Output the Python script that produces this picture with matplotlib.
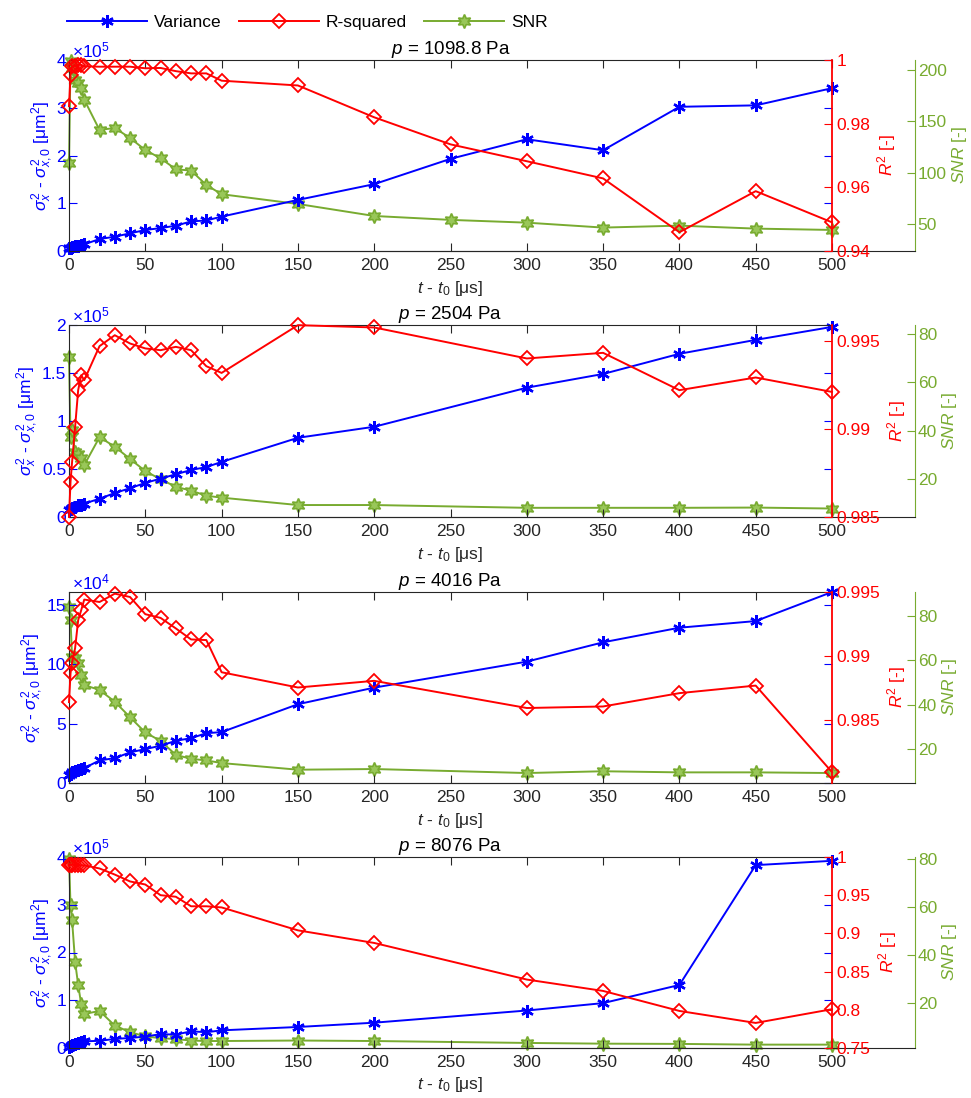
"""
Variance, R-squared and SNR against time for four pressures (MATLAB-style three-axis panels).
"""

import matplotlib
matplotlib.use('Agg')
from matplotlib import pyplot as plt
from matplotlib.lines import Line2D
from matplotlib.ticker import FuncFormatter, MultipleLocator

plt.rcParams['font.family'] = ['Liberation Sans', 'DejaVu Sans']
plt.rcParams['mathtext.fontset'] = 'custom'
plt.rcParams['mathtext.rm'] = 'Liberation Sans'
plt.rcParams['mathtext.it'] = 'Liberation Sans:italic'
plt.rcParams['mathtext.bf'] = 'Liberation Sans:bold'

# ---- data -------------------------------------------------------------
t_all = [0, 1, 2, 4, 6, 8, 10, 20, 30, 40, 50, 60, 70, 80, 90, 100,
         150, 200, 250, 300, 350, 400, 450, 500]
t_short = [0, 1, 2, 4, 6, 8, 10, 20, 30, 40, 50, 60, 70, 80, 90, 100,
           150, 200, 300, 350, 400, 450, 500]

pressures = ['1098.8', '2504', '4016', '8076']

# p = 1098.8 Pa
var_1 = [0.06e5, 0.07e5, 0.08e5, 0.10e5, 0.11e5, 0.12e5, 0.14e5, 0.25e5, 0.30e5, 0.37e5,
         0.44e5, 0.48e5, 0.53e5, 0.62e5, 0.64e5, 0.72e5, 1.07e5, 1.40e5, 1.93e5, 2.34e5,
         2.11e5, 3.02e5, 3.05e5, 3.41e5]
r2_1 = [0.9855, 0.9953, 0.9980, 0.9982, 0.9985, 0.9985, 0.9980, 0.9979, 0.9979, 0.9979,
        0.9974, 0.9975, 0.9965, 0.9958, 0.9958, 0.9935, 0.9920, 0.9820, 0.9735, 0.9682,
        0.9628, 0.9459, 0.9588, 0.9490]
snr_1 = [109, 209, 202, 190, 187, 182, 171, 141.6, 143.5, 133.8, 122, 114, 103.3, 102,
         88, 79, 69.5, 57.8, 54, 51.3, 46.5, 48.4, 45.5, 44.2]

# p = 2504 Pa
var_2 = [0.07e5, 0.08e5, 0.09e5, 0.10e5, 0.12e5, 0.13e5, 0.14e5, 0.19e5, 0.25e5, 0.30e5,
         0.355e5, 0.40e5, 0.445e5, 0.49e5, 0.52e5, 0.574e5, 0.825e5, 0.94e5, 1.347e5,
         1.49e5, 1.70e5, 1.845e5, 1.98e5]
r2_2 = [0.9850, 0.9870, 0.9881, 0.9901, 0.9922, 0.99305, 0.99277, 0.99470, 0.99532,
        0.99485, 0.99457, 0.99447, 0.99466, 0.99447, 0.99356, 0.99318, 0.99589, 0.99576,
        0.9940, 0.99432, 0.99220, 0.99292, 0.99210]
snr_2 = [70.5, 37.5, 40.3, 31.0, 30.2, 28.6, 25.8, 37.3, 33.4, 28.3, 23.3, 19.9, 16.8,
         15.2, 13.1, 12.3, 9.25, 9.25, 8.1, 8.1, 8.1, 8.2, 7.8]

# p = 4016 Pa
var_3 = [0.70e4, 0.80e4, 0.90e4, 1.00e4, 1.10e4, 1.18e4, 1.26e4, 1.90e4, 2.10e4, 2.58e4,
         2.86e4, 3.14e4, 3.56e4, 3.78e4, 4.20e4, 4.29e4, 6.64e4, 8.04e4, 10.23e4, 11.86e4,
         13.09e4, 13.65e4, 16.1e4]
r2_3 = [0.98641, 0.98866, 0.98950, 0.99061, 0.99280, 0.99358, 0.99441, 0.99422, 0.99487,
        0.99461, 0.99327, 0.99298, 0.99216, 0.99130, 0.99125, 0.98874, 0.98755, 0.98807,
        0.98595, 0.98607, 0.98711, 0.98770, 0.98095]
snr_3 = [84.2, 78.2, 61.7, 61.0, 58.7, 53.4, 48.9, 46.7, 41.4, 34.4, 27.5, 23.7, 17.4,
         15.6, 14.9, 13.7, 10.7, 11.0, 9.2, 10.0, 9.5, 9.5, 9.2]

# p = 8076 Pa
var_4 = [0.03e5, 0.05e5, 0.07e5, 0.09e5, 0.10e5, 0.12e5, 0.14e5, 0.15e5, 0.19e5, 0.21e5,
         0.24e5, 0.29e5, 0.28e5, 0.35e5, 0.33e5, 0.37e5, 0.44e5, 0.53e5, 0.785e5, 0.94e5,
         1.32e5, 3.83e5, 3.92e5]
r2_4 = [0.989, 0.990, 0.990, 0.989, 0.990, 0.989, 0.989, 0.985, 0.977, 0.968, 0.964,
        0.950, 0.948, 0.9355, 0.9355, 0.934, 0.904, 0.8875, 0.8396, 0.8247, 0.7985,
        0.7828, 0.8008]
snr_4 = [80.0, 60.7, 54.5, 37.2, 27.6, 19.6, 15.5, 16.8, 10.7, 8.0, 6.2, 5.5, 5.1, 4.5,
         4.3, 4.3, 4.5, 4.3, 3.5, 3.2, 3.1, 2.8, 2.8]

times = [t_all, t_short, t_short, t_short]
variances = [var_1, var_2, var_3, var_4]
r2s = [r2_1, r2_2, r2_3, r2_4]
snrs = [snr_1, snr_2, snr_3, snr_4]

# axis limits / ticks per panel
var_lims = [(0, 4e5), (0, 2e5), (0, 1.61e5), (0, 4e5)]
var_exp = [5, 5, 4, 5]
var_step = [1e5, 0.5e5, 5e4, 1e5]
r2_lims = [(0.94, 1.0), (0.985, 0.9959), (0.9801, 0.995), (0.75, 1.0)]
r2_step = [0.02, 0.005, 0.005, 0.05]
snr_lims = [(23.7, 209.7), (4.3, 83.7), (4.7, 90.9), (1.4, 80.7)]
snr_step = [50, 20, 20, 20]

BLUE = (0, 0, 1)
RED = (1, 0, 0)
GREEN = (0.47, 0.67, 0.19)
GREEN_FILL = (0.6, 0.78, 0.35)
GRAY = '#262626'
FS = 12.5

var_style = dict(color=BLUE, lw=1.4, marker=(6, 2, 0), ms=9, mew=1.7)
r2_style = dict(color=RED, lw=1.4, marker='D', ms=7, mfc='none', mew=1.3)
snr_style = dict(color=GREEN, lw=1.4, marker=(6, 1, 0), ms=10, mfc=GREEN_FILL,
                 mec=GREEN, mew=1.2)


def fmt_g(scale=1.0):
    return FuncFormatter(lambda v, p: '{:g}'.format(round(v / scale, 4)))


def draw_panel(fig, k, rect_main, rect_ext):
    w = rect_main[2]
    w_ext = rect_ext[2]
    xmax = 500.0

    # third axis for SNR (wider, its own spine further right)
    ax3 = fig.add_axes(rect_ext)
    ax3.patch.set_visible(False)
    ax3.set_xlim(0, xmax * w_ext / w)
    ax3.set_xticks([])
    for s in ['left', 'top']:
        ax3.spines[s].set_visible(False)
    ax3.spines['bottom'].set_color(GRAY)
    ax3.spines['right'].set_color(GREEN)
    ax3.yaxis.tick_right()
    ax3.yaxis.set_label_position('right')
    ax3.tick_params(axis='y', direction='in', colors=GREEN, labelsize=FS, length=6, pad=2)
    ax3.set_ylim(*snr_lims[k])
    ax3.yaxis.set_major_locator(MultipleLocator(snr_step[k]))
    ax3.yaxis.set_major_formatter(fmt_g())
    ax3.set_ylabel(r'$SNR$ [-]', color=GREEN, fontsize=FS, labelpad=2)

    ax1 = fig.add_axes(rect_main)
    ax1.patch.set_visible(False)
    ax2 = ax1.twinx()

    t = times[k]
    ax3.plot(t, snrs[k], clip_on=False, **snr_style)
    ax1.plot(t, variances[k], clip_on=False, **var_style)
    ax2.plot(t, r2s[k], clip_on=False, **r2_style)

    ax1.set_xlim(0, xmax)
    ax1.xaxis.set_major_locator(MultipleLocator(50))
    ax1.tick_params(axis='x', direction='in', top=True, colors=GRAY, labelsize=FS,
                    length=6, pad=5)
    ax1.set_ylim(*var_lims[k])
    ax1.yaxis.set_major_locator(MultipleLocator(var_step[k]))
    ax1.yaxis.set_major_formatter(fmt_g(10 ** var_exp[k]))
    ax1.tick_params(axis='y', direction='in', right=True, colors=BLUE, labelsize=FS,
                    length=6, pad=2)
    for s in ['left', 'top', 'bottom']:
        ax1.spines[s].set_color(GRAY)
    ax1.spines['right'].set_visible(False)
    ax1.set_ylabel(r'$\sigma_x^2$ - $\sigma_{x,0}^2$ [μm$^2$]', color=BLUE,
                   fontsize=FS, labelpad=1)
    ax1.text(0.004, 1.0, r'$\times10^{%d}$' % var_exp[k], transform=ax1.transAxes,
             ha='left', va='bottom', color=BLUE, fontsize=FS)
    ax1.set_xlabel(r'$t$ - $t_0$ [μs]', color=GRAY, fontsize=FS, labelpad=4)
    ax1.set_title(r'$p$ = %s Pa' % pressures[k], color='black', fontsize=13.5, pad=2)

    ax2.set_ylim(*r2_lims[k])
    ax2.yaxis.set_major_locator(MultipleLocator(r2_step[k]))
    ax2.yaxis.set_major_formatter(fmt_g())
    ax2.tick_params(axis='y', direction='in', colors=RED, labelsize=FS, length=6, pad=3)
    for s in ['left', 'top', 'bottom']:
        ax2.spines[s].set_visible(False)
    ax2.spines['right'].set_color(RED)
    ax2.spines['right'].set_linewidth(1.3)
    ax2.set_ylabel(r'$R^2$ [-]', color=RED, fontsize=FS, labelpad=4)
    return ax1


def main():
    W, H = 971, 1098
    fig = plt.figure(figsize=(W / 100, H / 100), dpi=100)
    fig.patch.set_facecolor('white')

    x0, x_main, x_ext = 69, 832, 915
    tops = [60, 325, 592, 857]
    bottoms = [251, 517, 783, 1048]

    for k in range(4):
        b = 1 - bottoms[k] / H
        h = (bottoms[k] - tops[k]) / H
        rect_main = [x0 / W, b, (x_main - x0) / W, h]
        rect_ext = [x0 / W, b, (x_ext - x0) / W, h]
        draw_panel(fig, k, rect_main, rect_ext)

    handles = [Line2D([], [], **var_style), Line2D([], [], **r2_style),
               Line2D([], [], **snr_style)]
    fig.legend(handles, ['Variance', 'R-squared', 'SNR'], loc='upper left',
               bbox_to_anchor=(0.062, 0.993), ncol=3, frameon=False, fontsize=12.5,
               handlelength=4.6, handletextpad=0.4, columnspacing=1.0, borderaxespad=0)

    plt.savefig('out.png', dpi=100)


if __name__ == '__main__':
    main()
